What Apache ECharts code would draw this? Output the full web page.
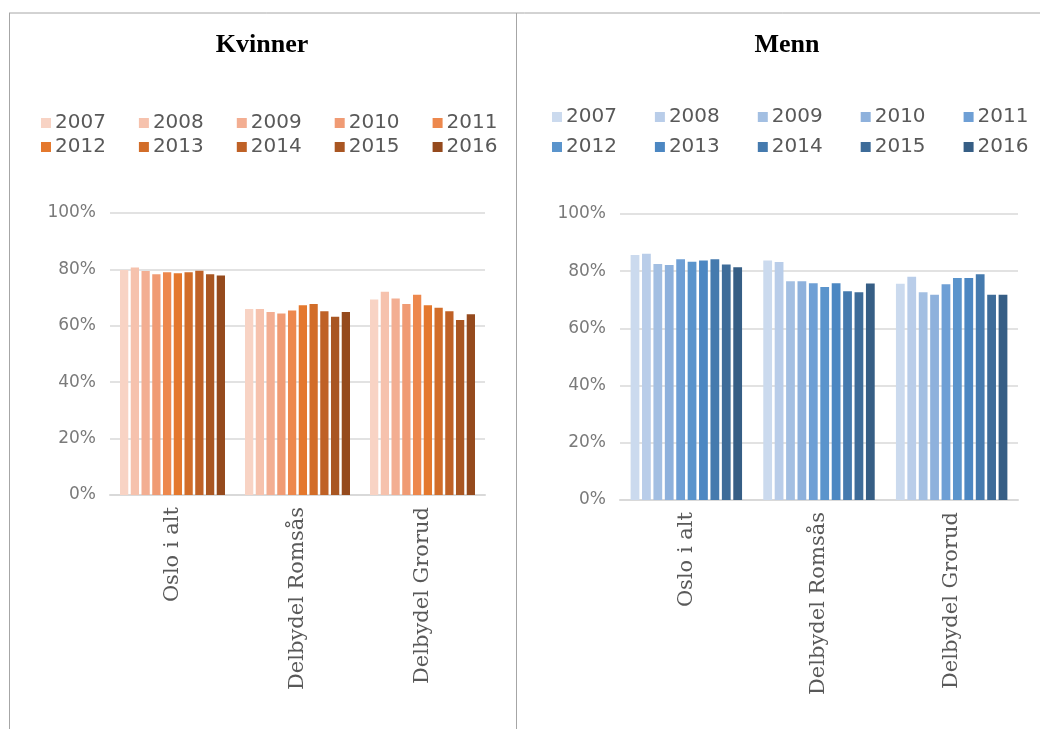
<!DOCTYPE html>
<html>
<head>
<meta charset="utf-8">
<script src="https://cdn.jsdelivr.net/npm/echarts@6/dist/echarts.min.js"></script>
<style>
  html, body { margin: 0; padding: 0; background: #fff; }
  #chart { width: 1040px; height: 729px; }
</style>
</head>
<body>
<div id="chart"></div>
<script>
// Area names and survey years
const categories = ['Oslo i alt', 'Delbydel Romsås', 'Delbydel Grorud'];
const years = ['2007', '2008', '2009', '2010', '2011', '2012', '2013', '2014', '2015', '2016'];
const yTicks = [0, 20, 40, 60, 80, 100];

// Share (%) per year, ordered as categories: [Oslo, Romsås, Grorud]
const women = {
  '2007': [79.8, 66.0, 69.3],
  '2008': [80.7, 66.0, 72.1],
  '2009': [79.4, 64.9, 69.7],
  '2010': [78.3, 64.4, 67.7],
  '2011': [79.0, 65.4, 71.0],
  '2012': [78.6, 67.3, 67.3],
  '2013': [79.0, 67.7, 66.4],
  '2014': [79.5, 65.2, 65.2],
  '2015': [78.3, 63.2, 62.1],
  '2016': [77.8, 64.9, 64.1]
};
const men = {
  '2007': [85.7, 83.7, 75.6],
  '2008': [86.1, 83.2, 78.1],
  '2009': [82.5, 76.5, 72.6],
  '2010': [82.2, 76.5, 71.8],
  '2011': [84.2, 75.8, 75.4],
  '2012': [83.3, 74.5, 77.6],
  '2013': [83.7, 75.8, 77.6],
  '2014': [84.2, 73.0, 78.9],
  '2015': [82.3, 72.6, 71.8],
  '2016': [81.4, 75.7, 71.8]
};

const orangeShades = ['#f8d3c4', '#f6c2ad', '#f3ae92', '#f09b74', '#ed884d', '#e4782d', '#d26d29', '#bf6126', '#a95622', '#954a1d'];
const blueShades = ['#cbdaee', '#b9cde9', '#a3bfe2', '#8eb1dc', '#6e9fd5', '#5a94cc', '#4c87c2', '#457aae', '#3e6c99', '#365e85'];

const sansFont = '"DejaVu Sans", sans-serif';
const serifFont = '"DejaVu Serif", "Liberation Serif", serif';
const titleFont = '"Liberation Serif", serif';

const chart = echarts.init(document.getElementById('chart'));

function xAxisFor(gridIndex) {
  return {
    type: 'category',
    gridIndex: gridIndex,
    data: categories,
    axisTick: { show: false },
    axisLine: { lineStyle: { color: '#d9d9d9', width: 2 } },
    axisLabel: {
      rotate: 90,
      margin: 12,
      color: '#595959',
      fontFamily: serifFont,
      fontSize: 21
    }
  };
}

function yAxisFor(gridIndex) {
  return {
    type: 'value',
    gridIndex: gridIndex,
    min: 0,
    max: 100,
    interval: 20,
    axisLine: { show: false },
    axisTick: { show: false },
    splitLine: { lineStyle: { color: '#d9d9d9', width: 1.5 } },
    axisLabel: {
      margin: 14,
      color: '#7a7a7a',
      fontFamily: sansFont,
      fontSize: 17,
      formatter: v => (yTicks.includes(v) ? v + '%' : '')
    }
  };
}

function seriesFor(table, shades, axisIndex, prefix) {
  return years.map((y, i) => ({
    name: prefix + y,
    type: 'bar',
    xAxisIndex: axisIndex,
    yAxisIndex: axisIndex,
    data: table[y],
    itemStyle: { color: shades[i] },
    barGap: '30%',
    barCategoryGap: '16%',
    silent: true
  }));
}

function legendRow(names, left, top, gap) {
  return {
    left: left,
    top: top,
    itemWidth: 10,
    itemHeight: 10,
    itemGap: gap,
    icon: 'rect',
    selectedMode: false,
    data: names,
    formatter: n => n.slice(2),
    textStyle: { color: '#595959', fontFamily: sansFont, fontSize: 20, padding: [0, 0, 0, -1] }
  };
}

const wNames = years.map(y => 'K ' + y);
const mNames = years.map(y => 'M ' + y);

chart.setOption({
  animation: false,
  backgroundColor: '#ffffff',
  title: [
    { text: 'Kvinner', left: 257, top: 27, textAlign: 'center',
      textStyle: { fontFamily: titleFont, fontWeight: 'bold', fontSize: 26, color: '#000' } },
    { text: 'Menn', left: 782, top: 27, textAlign: 'center',
      textStyle: { fontFamily: titleFont, fontWeight: 'bold', fontSize: 26, color: '#000' } }
  ],
  legend: [
    legendRow(wNames.slice(0, 5), 36, 108, 33),
    legendRow(wNames.slice(5), 36, 132, 33),
    legendRow(mNames.slice(0, 5), 547, 102, 38),
    legendRow(mNames.slice(5), 547, 132, 38)
  ],
  grid: [
    { left: 110, top: 213, width: 375, height: 282 },
    { left: 620, top: 214, width: 398, height: 286 }
  ],
  xAxis: [xAxisFor(0), xAxisFor(1)],
  yAxis: [yAxisFor(0), yAxisFor(1)],
  series: seriesFor(women, orangeShades, 0, 'K ').concat(seriesFor(men, blueShades, 1, 'M ')),
  graphic: [
    { type: 'line', shape: { x1: 9, y1: 13, x2: 1040, y2: 13 }, style: { stroke: '#a6a6a6', lineWidth: 1 } },
    { type: 'line', shape: { x1: 9.5, y1: 13, x2: 9.5, y2: 729 }, style: { stroke: '#a6a6a6', lineWidth: 1 } },
    { type: 'line', shape: { x1: 516.5, y1: 13, x2: 516.5, y2: 729 }, style: { stroke: '#a6a6a6', lineWidth: 1 } }
  ]
});
</script>
</body>
</html>
